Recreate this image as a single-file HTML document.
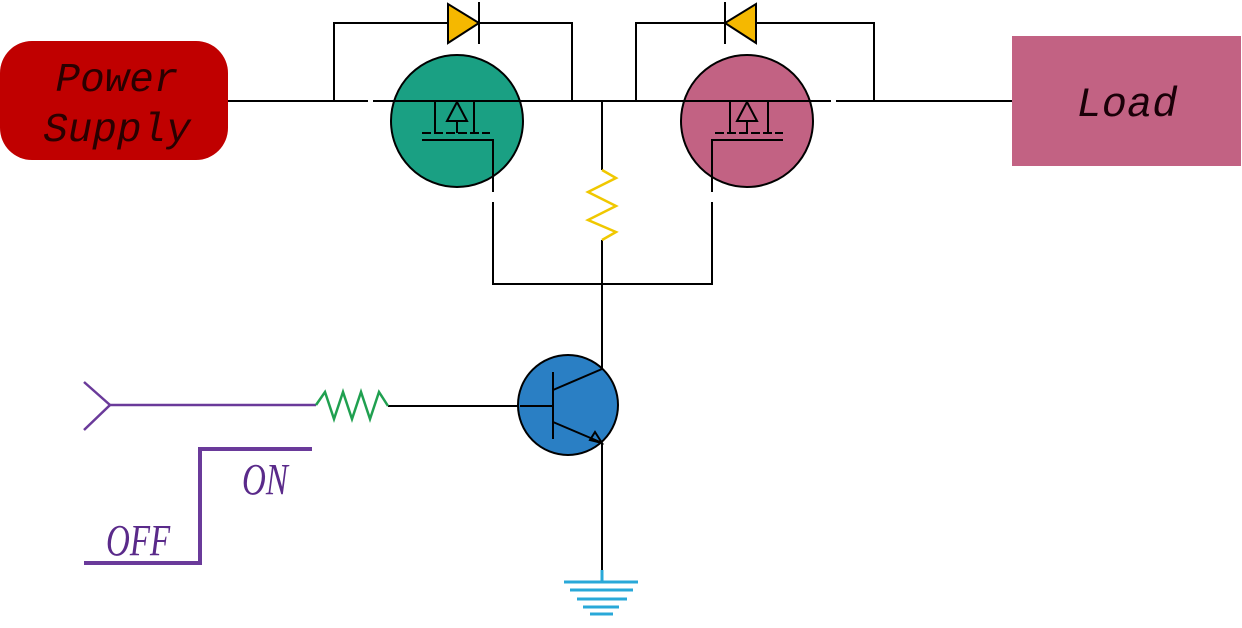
<!DOCTYPE html>
<html><head><meta charset="utf-8"><style>
html,body{margin:0;padding:0;background:#fff;}
svg{display:block;}
text{font-family:"Liberation Mono",monospace;font-style:italic;}
</style></head><body>
<svg width="1242" height="628" viewBox="0 0 1242 628" xmlns="http://www.w3.org/2000/svg">
<rect width="1242" height="628" fill="#fff"/>
<!-- Power supply -->
<rect x="0" y="41" width="228" height="119" rx="32" fill="#c00000"/>
<text x="117" y="91" font-size="41" text-anchor="middle" fill="#2a0000">Power</text>
<text x="117" y="141" font-size="41" text-anchor="middle" fill="#2a0000">Supply</text>
<!-- Load -->
<rect x="1012" y="36" width="229" height="130" fill="#c26283"/>
<text x="1127" y="116" font-size="42" text-anchor="middle" fill="#1a0008">Load</text>

<g stroke="#000" stroke-width="2" fill="none">
<line x1="228" y1="101" x2="368" y2="101"/>
<line x1="836" y1="101" x2="1012" y2="101"/>
<polyline points="334,101 334,23 448,23"/>
<polyline points="479,23 572,23 572,101"/>
<polyline points="636,101 636,23 725,23"/>
<polyline points="756,23 874,23 874,101"/>
</g>
<circle cx="457" cy="121" r="66" fill="#1aa083" stroke="#000" stroke-width="2"/>
<circle cx="747" cy="121" r="66" fill="#c26283" stroke="#000" stroke-width="2"/>
<g stroke="#000" stroke-width="2" fill="none">
<line x1="373" y1="101" x2="831" y2="101"/>
<line x1="435" y1="101" x2="435" y2="133"/>
<line x1="474" y1="101" x2="474" y2="133"/>
<polygon points="457,102 447,121 467,121"/>
<line x1="457" y1="121" x2="457" y2="133"/>
<line x1="422" y1="133" x2="490" y2="133" stroke-dasharray="9,3"/>
<polyline points="422,140 493,140 493,192"/>
<polyline points="493,202 493,284 712,284 712,202"/>
<polyline points="712,192 712,140 783,140"/>
<line x1="730" y1="101" x2="730" y2="133"/>
<line x1="768" y1="101" x2="768" y2="133"/>
<polygon points="747,102 737,121 757,121"/>
<line x1="747" y1="121" x2="747" y2="133"/>
<line x1="715" y1="133" x2="783" y2="133" stroke-dasharray="9,3"/>
<line x1="602" y1="101" x2="602" y2="170"/>
<line x1="602" y1="240" x2="602" y2="369"/>
<line x1="602" y1="443" x2="602" y2="572"/>
<line x1="388" y1="406" x2="520" y2="406"/>
</g>
<polygon points="448,4 448,43 479,23" fill="#f5b800" stroke="#000" stroke-width="2"/>
<line x1="479" y1="2" x2="479" y2="44" stroke="#000" stroke-width="2"/>
<polygon points="756,4 756,43 725,23" fill="#f5b800" stroke="#000" stroke-width="2"/>
<line x1="725" y1="2" x2="725" y2="44" stroke="#000" stroke-width="2"/>
<polyline points="602,170 616,178 588,192 616,206 588,220 616,232 602,240" fill="none" stroke="#f0c800" stroke-width="2.5"/>
<circle cx="568" cy="405" r="50" fill="#2a7fc4" stroke="#000" stroke-width="2"/>
<g stroke="#000" stroke-width="2" fill="none">
<line x1="520" y1="406" x2="553" y2="406"/>
<line x1="553" y1="372" x2="553" y2="439"/>
<line x1="553" y1="390" x2="602" y2="369"/>
<line x1="553" y1="422" x2="600" y2="442"/>
<polygon points="602,443 590,440 595,432"/>
</g>
<g stroke="#29a8d8" stroke-width="3">
<line x1="602" y1="570" x2="602" y2="582"/>
<line x1="564" y1="582" x2="638" y2="582"/>
<line x1="570" y1="590" x2="633" y2="590"/>
<line x1="577" y1="599" x2="627" y2="599"/>
<line x1="583" y1="607" x2="619" y2="607"/>
<line x1="590" y1="614" x2="613" y2="614"/>
</g>
<g stroke="#6a3a9a" stroke-width="2.5" fill="none">
<polyline points="84,382 110,405 84,430"/>
<line x1="110" y1="405" x2="316" y2="405"/>
<polyline points="84,563 200,563 200,449 312,449" stroke-width="4"/>
</g>
<polyline points="316,405 325,392 334,419 343,392 352,419 361,392 370,419 379,392 388,406" fill="none" stroke="#20a050" stroke-width="2.5"/>
<text transform="translate(242,494) scale(0.75,1)" font-size="44" fill="#5a2a8a" style="font-family:'Liberation Serif',serif">ON</text>
<text transform="translate(106,555) scale(0.75,1)" font-size="44" fill="#5a2a8a" style="font-family:'Liberation Serif',serif">OFF</text>
</svg>
</body></html>
